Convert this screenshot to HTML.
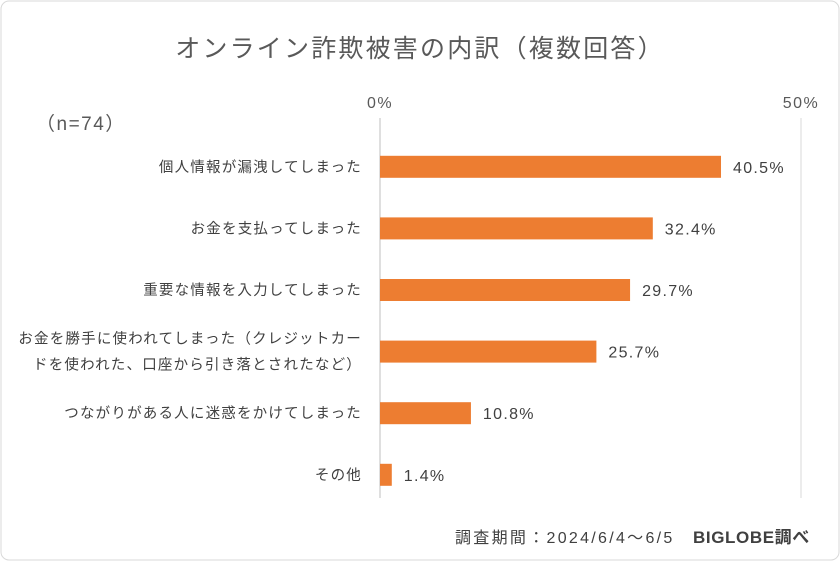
<!DOCTYPE html>
<html><head><meta charset="utf-8"><style>
body{margin:0;background:#fff;}
svg{display:block;font-family:"Liberation Sans","Noto Sans CJK JP",sans-serif;}
</style></head><body>
<svg id="chart" width="840" height="561">
<rect x="1" y="1" width="838" height="559" rx="8" fill="#fff" stroke="#d9d9d9"/>
<text x="420" y="57" text-anchor="middle" font-size="25" letter-spacing="2.2" fill="#595959">オンライン詐欺被害の内訳（複数回答）</text>
<text x="36" y="130" font-size="19" letter-spacing="1.5" fill="#595959">（n=74）</text>
<g id="plot"></g>
<text x="455" y="543" font-size="16" letter-spacing="2.3" fill="#404040">調査期間：2024/6/4～6/5</text>
<text x="693" y="543" font-size="17" font-weight="bold" letter-spacing="0.6" fill="#404040">BIGLOBE調べ</text>
</svg>
<script>
const categories=[["個人情報が漏洩してしまった"],["お金を支払ってしまった"],["重要な情報を入力してしまった"],["お金を勝手に使われてしまった（クレジットカー","ドを使われた、口座から引き落とされたなど）"],["つながりがある人に迷惑をかけてしまった"],["その他"]];
const values=[40.5,32.4,29.7,25.7,10.8,1.4];
const tickValues=[0,50];
const tickLabels=["0%","50%"];
const NS="http://www.w3.org/2000/svg";
const g=document.getElementById("plot");
const x0=380,x1=801,vmax=50,yTop=136,band=61.6,bh=22;
const xs=v=>x0+(v/vmax)*(x1-x0);
const yc=i=>yTop+band*(i+0.5);
function mk(t,a){const e=document.createElementNS(NS,t);for(const k in a)e.setAttribute(k,a[k]);g.appendChild(e);return e;}
tickValues.forEach((v,i)=>{
 const l=mk("line",{x1:xs(v),x2:xs(v),y1:118,y2:498,stroke:i==0?"#bfbfbf":"#d9d9d9","stroke-width":1});
 
 
 const t=mk("text",{x:xs(v),y:108,"text-anchor":"middle","font-size":16,"letter-spacing":1.5,fill:"#595959"});
 t.textContent=tickLabels[i];
 
 
});
values.forEach((v,i)=>{
 const c=yc(i);
 const r=mk("rect",{x:x0,y:c-bh/2,width:xs(v)-x0,height:bh,fill:"#ed7d31"});
 
 
 const t=mk("text",{x:xs(v)+12,y:c+6,"font-size":16,"letter-spacing":1.3,fill:"#404040"});
 t.textContent=v.toFixed(1)+"%";
 
 
 const lines=categories[i];
 lines.forEach((s,j)=>{
  const dy=lines.length==1?5:(j==0?-8:18);
  const ct=mk("text",{x:362,y:c+dy,"text-anchor":"end","font-size":14.5,"letter-spacing":1.2,fill:"#404040"});
  ct.textContent=s;
  
  
 });
});
</script>
</body></html>
